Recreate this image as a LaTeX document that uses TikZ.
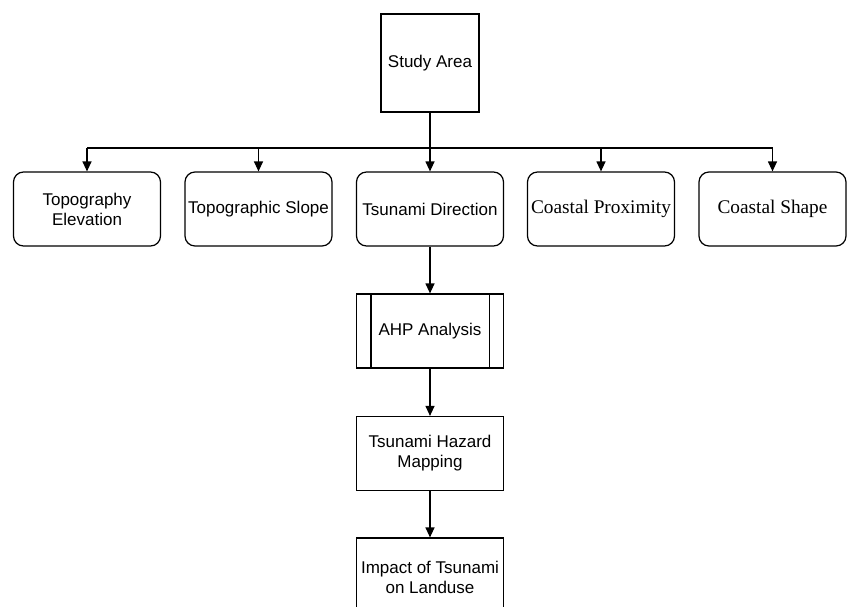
\documentclass[tikz,border=0pt]{standalone}
\usepackage{fontspec}
\setmainfont{Liberation Sans}
\newfontfamily\timesfont{Liberation Serif}
\usetikzlibrary{arrows.meta}

\begin{document}
\begin{tikzpicture}[x=1pt,y=-1pt,line width=1.2pt,
  box/.style={draw,rectangle,minimum width=147pt,minimum height=74pt,inner sep=1pt,align=center,font=\fontsize{17}{20}\selectfont},
  rbox/.style={box,rounded corners=10pt},
  serif/.style={font=\timesfont\fontsize{19.3}{22}\selectfont},
  arr/.style={-{Triangle[length=10pt,width=9pt]}}]
\useasboundingbox (0,0) rectangle (849,606);
\clip (0,0) rectangle (849,606);
\node[box,minimum width=98pt,minimum height=98pt] (study) at (430,63) {Study Area};
\foreach \i/\x/\s/\t in %
{1/87//{Topography\\Elevation},2/258.5//{Topographic Slope},3/430//{Tsunami Direction},4/601/serif/{Coastal Proximity},5/772.5/serif/{Coastal Shape}} {
   \node[rbox,\s] (f\i) at (\x,209) {\t};
}
\coordinate (bus) at (430,148);
\draw (study) -- (bus);
\draw (f1.north |- bus) -- (f5.north |- bus);
\foreach \i in {1,...,5} {
   \draw[arr] (f\i.north |- bus) -- (f\i);
}
\node[box] (ahp) at (430,331) {AHP Analysis};
\draw ([xshift=15pt]ahp.north west) -- ([xshift=15pt]ahp.south west);
\draw ([xshift=-15pt]ahp.north east) -- ([xshift=-15pt]ahp.south east);
\node[box] (map) at (430,453.5) {Tsunami Hazard\\Mapping};
\node[box,minimum height=78pt] (impact) at (430,577) {Impact of Tsunami\\on Landuse};
\draw[arr] (f3) -- (ahp);
\draw[arr] (ahp) -- (map);
\draw[arr] (map) -- (impact);
\end{tikzpicture}
\end{document}
